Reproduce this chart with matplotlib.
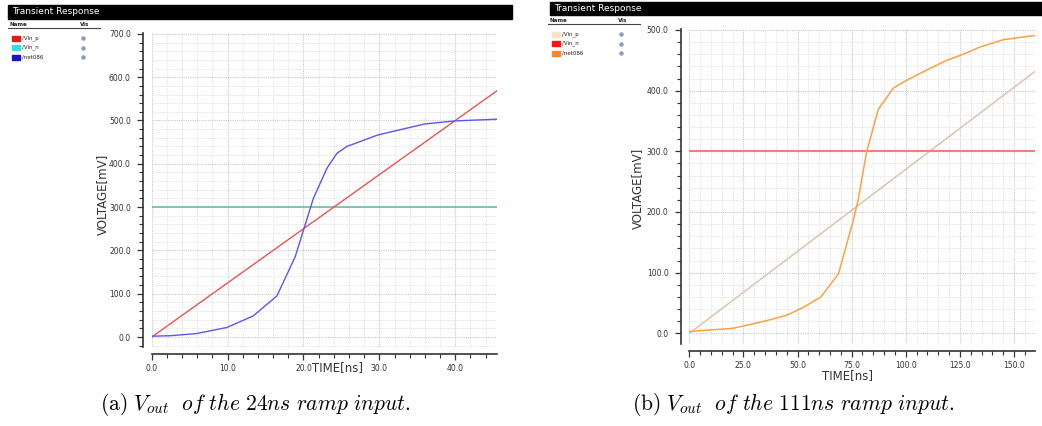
import matplotlib
matplotlib.use("Agg")
import matplotlib.pyplot as plt
from matplotlib.patches import Rectangle
from matplotlib.ticker import MultipleLocator, FormatStrFormatter

plt.rcParams['mathtext.fontset'] = 'cm'

# (a) 24ns ramp
a_ramp_t = [0, 48]
a_ramp_v = [0, 600]
a_ref_t = [0, 48]
a_ref_v = [300, 300]
a_out_t = [0, 2.4, 5.9, 9.9, 13.4, 16.5, 18.9, 21.3, 23.1, 24.4, 25.7, 27.1, 29.7, 32.8, 36.0, 40.0, 45.5]
a_out_v = [2, 3, 8, 22, 49, 95, 185, 320, 390, 424, 440, 449, 466, 479, 492, 499, 503]

# (b) 111ns ramp
b_ramp_t = [0, 222]
b_ramp_v = [0, 600]
b_ref_t = [0, 222]
b_ref_v = [300, 300]
b_out_t = [0, 9.6, 19.6, 25.0, 35.8, 45.1, 52.8, 60.8, 68.9, 75.6, 78.0, 81.9, 87.3, 94.2,
           100.4, 109.7, 118.9, 125.1, 134.4, 145.1, 159.7]
b_out_v = [3, 5.5, 8, 12, 21, 30, 43, 60, 98, 184, 220, 299, 369, 404,
           417, 434, 450, 458, 472, 484, 491]

legend_names = ['/Vin_p', '/Vin_n', '/net086']

W, H = 1042, 426
fig = plt.figure(figsize=(W / 100, H / 100), dpi=100)

# background layer in pixel coordinates
bg = fig.add_axes([0, 0, 1, 1])
bg.set_xlim(0, W)
bg.set_ylim(H, 0)
bg.axis('off')


def px_axes(x0, y0, x1, y1):
    return fig.add_axes([x0 / W, 1 - y1 / H, (x1 - x0) / W, (y1 - y0) / H])


def panel_frame(hx0, hx1, hy0, hy1, lx, ly, swatches, eye_x):
    bg.add_patch(Rectangle((hx0, hy0), hx1 - hx0, hy1 - hy0, color='black'))
    bg.text(hx0 + 4, (hy0 + hy1) / 2, 'Transient Response', color='white',
            fontsize=6.5, va='center', ha='left')
    bg.text(lx + 2, ly, 'Name', fontsize=4, va='center', weight='bold', color='#222222')
    bg.text(eye_x - 3, ly, 'Vis', fontsize=4, va='center', weight='bold', color='#222222')
    bg.plot([lx, lx + 92], [ly + 4, ly + 4], color='#444444', lw=0.8)
    for i, (name, c) in enumerate(zip(legend_names, swatches)):
        yy = ly + 14 + i * 9.5
        bg.add_patch(Rectangle((lx + 4, yy - 2.5), 8, 5, color=c))
        bg.text(lx + 14, yy, name, fontsize=4, va='center', color='#222222')
        bg.plot(eye_x, yy, 'o', ms=2.2, color='#8a9ac0')


panel_frame(8, 512, 5, 19, 8, 24, ['#e81818', '#30e0e0', '#1414c8'], 83)
panel_frame(550, 1042, 2, 15, 548, 20, ['#ffe2c4', '#ff1414', '#ff8424'], 621)


def style_axes(ax, xmaj, xmin, ymaj, ymin):
    for s in ['top', 'right']:
        ax.spines[s].set_visible(False)
    ax.spines['left'].set_position(('outward', 6))
    ax.spines['bottom'].set_position(('outward', 5))
    for s in ['left', 'bottom']:
        ax.spines[s].set_color('#333333')
        ax.spines[s].set_linewidth(1.2)
    ax.xaxis.set_major_locator(MultipleLocator(xmaj))
    ax.xaxis.set_minor_locator(MultipleLocator(xmin))
    ax.yaxis.set_major_locator(MultipleLocator(ymaj))
    ax.yaxis.set_minor_locator(MultipleLocator(ymin))
    ax.xaxis.set_major_formatter(FormatStrFormatter('%.1f'))
    ax.yaxis.set_major_formatter(FormatStrFormatter('%.1f'))
    ax.tick_params(which='major', length=4, width=0.9, color='#333333',
                   labelsize=5.5, labelcolor='#333333')
    ax.tick_params(which='minor', length=3, width=0.8, color='#333333')
    ax.tick_params(axis='y', pad=5)
    ax.tick_params(axis='x', pad=3)
    ax.grid(which='major', color='#c8c8c8', lw=0.8, ls=(0, (1, 1)))
    ax.grid(which='minor', color='#e2e2e2', lw=0.7, ls=(0, (1, 1)))
    ax.set_axisbelow(True)


# panel (a)
ax1 = px_axes(151.7, 33, 497, 347)
ax1.plot(a_ref_t, a_ref_v, color='#62b8a6', lw=1.1)
ax1.plot(a_ramp_t, a_ramp_v, color='#f05252', lw=1.0)
ax1.plot(a_out_t, a_out_v, color='#5858f0', lw=1.0)
ax1.set_xlim(0, 45.5)
ax1.set_ylim(-23, 702)
style_axes(ax1, 10, 2, 100, 20)

# panel (b)
ax2 = px_axes(689.3, 29, 1035, 344)
ax2.plot(b_ramp_t, b_ramp_v, color='#dac6ae', lw=1.1)
ax2.plot(b_ref_t, b_ref_v, color='#ee8080', lw=1.5)
ax2.plot(b_out_t, b_out_v, color='#ffa044', lw=1.1)
ax2.set_xlim(0, 159.7)
ax2.set_ylim(-17.6, 501.6)
style_axes(ax2, 25, 5, 100, 20)

# axis titles
bg.text(338, 368, 'TIME[ns]', fontsize=8.5, color='#333333', ha='center', va='center')
bg.text(102, 194, 'VOLTAGE[mV]', fontsize=8.5, color='#333333', ha='center', va='center',
        rotation=90)
bg.text(848, 376, 'TIME[ns]', fontsize=8.5, color='#333333', ha='center', va='center')
bg.text(637, 188, 'VOLTAGE[mV]', fontsize=8.5, color='#333333', ha='center', va='center',
        rotation=90)

# captions
bg.text(100, 405, r'$\mathrm{(a)}\ V_{out}\ \ \mathit{of\ the\ 24ns\ ramp\ input.}$',
        fontsize=15.5, ha='left', va='center')
bg.text(632, 405, r'$\mathrm{(b)}\ V_{out}\ \ \mathit{of\ the\ 111ns\ ramp\ input.}$',
        fontsize=15.5, ha='left', va='center')

fig.savefig('out.png', dpi=100)
